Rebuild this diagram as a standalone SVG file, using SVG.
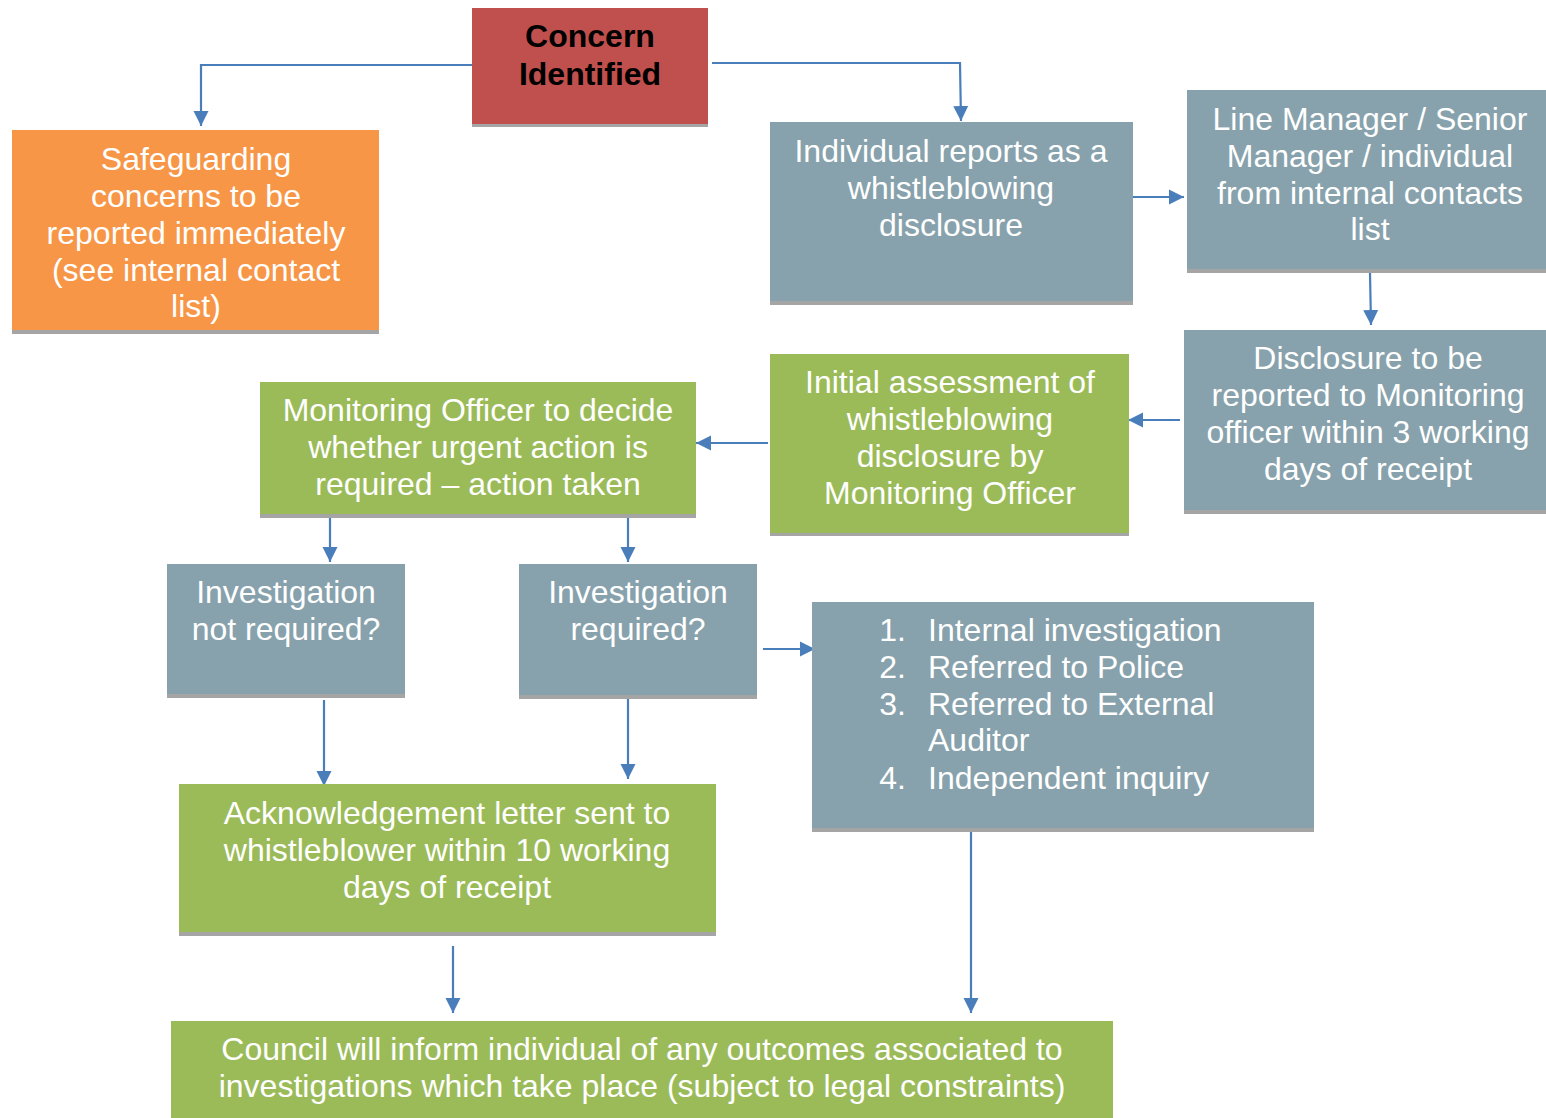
<svg xmlns="http://www.w3.org/2000/svg" width="1546" height="1118" viewBox="0 0 1546 1118">
<defs>
<marker id="ah" markerWidth="16" markerHeight="16" refX="15" refY="8" orient="auto" markerUnits="userSpaceOnUse" viewBox="0 0 16 16">
<path d="M0,0.5 L15,8 L0,15.5 z" fill="#4A7EBB"/>
</marker>
<style>
.sh{fill:#A5A5A5}
.red{fill:#C0504D}
.org{fill:#F79646}
.gry{fill:#87A2AC}
.grn{fill:#9BBB59}
text{font-family:"Liberation Sans",Arial,sans-serif;font-size:32px;fill:#fff;text-anchor:middle}
.blk{fill:#000;font-weight:bold}
.ls{text-anchor:start}
.ln{text-anchor:end}
.c{fill:none;stroke:#4A7EBB;stroke-width:2.2}
</style>
</defs>
<rect width="1546" height="1118" fill="#fff"/>
<g id="connectors">
<polyline class="c" points="472,65 201,65 201,126" marker-end="url(#ah)"/>
<polyline class="c" points="712,63 960,63 961,121" marker-end="url(#ah)"/>
<line class="c" x1="1133" y1="197" x2="1184" y2="197" marker-end="url(#ah)"/>
<line class="c" x1="1370" y1="273" x2="1371" y2="325" marker-end="url(#ah)"/>
<line class="c" x1="1180" y1="420" x2="1128" y2="420" marker-end="url(#ah)"/>
<line class="c" x1="768" y1="443" x2="696" y2="443" marker-end="url(#ah)"/>
<line class="c" x1="330" y1="516" x2="330" y2="562" marker-end="url(#ah)"/>
<line class="c" x1="628" y1="514" x2="628" y2="562" marker-end="url(#ah)"/>
<line class="c" x1="324" y1="700" x2="324" y2="786" marker-end="url(#ah)"/>
<line class="c" x1="628" y1="698" x2="628" y2="779" marker-end="url(#ah)"/>
<line class="c" x1="763" y1="649" x2="815" y2="649" marker-end="url(#ah)"/>
<line class="c" x1="453" y1="946" x2="453" y2="1013" marker-end="url(#ah)"/>
<line class="c" x1="971" y1="832" x2="971" y2="1013" marker-end="url(#ah)"/>
</g>
<g id="concern">
<rect class="sh" x="472" y="8" width="236" height="119"/>
<rect class="red" x="472" y="8" width="236" height="116"/>
<text class="blk" x="590" y="47">Concern</text>
<text class="blk" x="590" y="85">Identified</text>
</g>
<g id="safeguarding">
<rect class="sh" x="12" y="130" width="367" height="204"/>
<rect class="org" x="12" y="130" width="367" height="200"/>
<text x="196" y="170">Safeguarding</text>
<text x="196" y="207">concerns to be</text>
<text x="196" y="244">reported immediately</text>
<text x="196" y="281">(see internal contact</text>
<text x="196" y="317">list)</text>
</g>
<g id="individual">
<rect class="sh" x="770" y="122" width="363" height="183"/>
<rect class="gry" x="770" y="122" width="363" height="179"/>
<text x="951" y="162">Individual reports as a</text>
<text x="951" y="199">whistleblowing</text>
<text x="951" y="236">disclosure</text>
</g>
<g id="linemanager">
<rect class="sh" x="1187" y="90" width="359" height="183"/>
<rect class="gry" x="1187" y="90" width="359" height="179"/>
<text x="1370" y="130">Line Manager / Senior</text>
<text x="1370" y="167">Manager / individual</text>
<text x="1370" y="204">from internal contacts</text>
<text x="1370" y="240">list</text>
</g>
<g id="disclosure">
<rect class="sh" x="1184" y="330" width="362" height="184"/>
<rect class="gry" x="1184" y="330" width="362" height="180"/>
<text x="1368" y="369">Disclosure to be</text>
<text x="1368" y="406">reported to Monitoring</text>
<text x="1368" y="443">officer within 3 working</text>
<text x="1368" y="480">days of receipt</text>
</g>
<g id="initial">
<rect class="sh" x="770" y="354" width="359" height="182"/>
<rect class="grn" x="770" y="354" width="359" height="179"/>
<text x="950" y="393">Initial assessment of</text>
<text x="950" y="430">whistleblowing</text>
<text x="950" y="467">disclosure by</text>
<text x="950" y="504">Monitoring Officer</text>
</g>
<g id="monitoring">
<rect class="sh" x="260" y="382" width="436" height="136"/>
<rect class="grn" x="260" y="382" width="436" height="132"/>
<text x="478" y="421">Monitoring Officer to decide</text>
<text x="478" y="458">whether urgent action is</text>
<text x="478" y="495">required – action taken</text>
</g>
<g id="notrequired">
<rect class="sh" x="167" y="564" width="238" height="134"/>
<rect class="gry" x="167" y="564" width="238" height="130"/>
<text x="286" y="603">Investigation</text>
<text x="286" y="640">not required?</text>
</g>
<g id="required">
<rect class="sh" x="519" y="564" width="238" height="135"/>
<rect class="gry" x="519" y="564" width="238" height="131"/>
<text x="638" y="603">Investigation</text>
<text x="638" y="640">required?</text>
</g>
<g id="options">
<rect class="sh" x="812" y="602" width="502" height="230"/>
<rect class="gry" x="812" y="602" width="502" height="226"/>
<text class="ln" x="906" y="641">1.</text>
<text class="ls" x="928" y="641">Internal investigation</text>
<text class="ln" x="906" y="678">2.</text>
<text class="ls" x="928" y="678">Referred to Police</text>
<text class="ln" x="906" y="715">3.</text>
<text class="ls" x="928" y="715">Referred to External</text>
<text class="ls" x="928" y="751">Auditor</text>
<text class="ln" x="906" y="789">4.</text>
<text class="ls" x="928" y="789">Independent inquiry</text>
</g>
<g id="acknowledgement">
<rect class="sh" x="179" y="784" width="537" height="152"/>
<rect class="grn" x="179" y="784" width="537" height="148"/>
<text x="447" y="824">Acknowledgement letter sent to</text>
<text x="447" y="861">whistleblower within 10 working</text>
<text x="447" y="898">days of receipt</text>
</g>
<g id="council">
<rect class="grn" x="171" y="1021" width="942" height="97"/>
<text x="642" y="1060">Council will inform individual of any outcomes associated to</text>
<text x="642" y="1097">investigations which take place (subject to legal constraints)</text>
</g>
</svg>
